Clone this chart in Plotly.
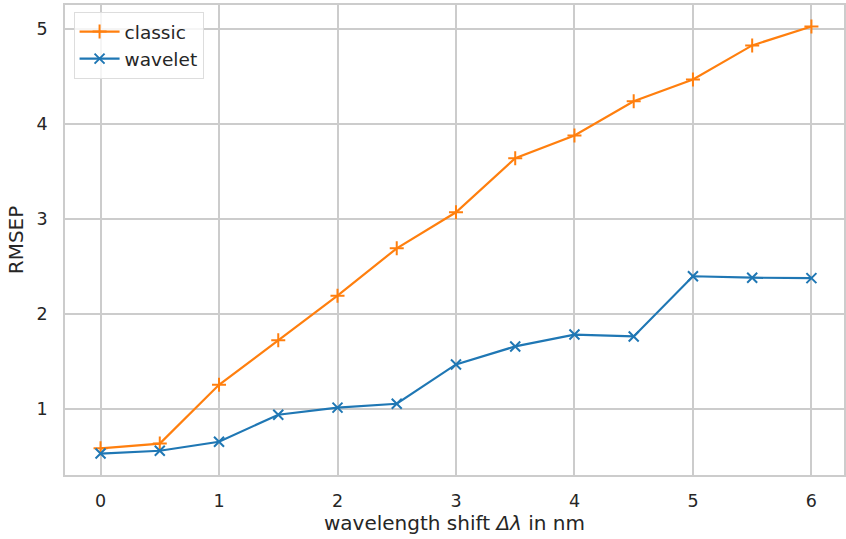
import plotly.graph_objects as go

shift = [0, 0.5, 1, 1.5, 2, 2.5, 3, 3.5, 4, 4.5, 5, 5.5, 6]
classic = [0.58, 0.63, 1.25, 1.72, 2.19, 2.69, 3.07, 3.64, 3.88, 4.24, 4.47, 4.83, 5.03]
wavelet = [0.525, 0.555, 0.65, 0.935, 1.01, 1.05, 1.465, 1.655, 1.78, 1.76, 2.395, 2.38, 2.375]

x_ticks = [0, 1, 2, 3, 4, 5, 6]
y_ticks = [1, 2, 3, 4, 5]

fig = go.Figure()
fig.add_trace(go.Scatter(
    x=shift, y=classic, name="classic", mode="lines+markers",
    line=dict(color="#ff7f0e", width=2.2),
    marker=dict(symbol="cross-thin", size=10, line=dict(color="#ff7f0e", width=2)),
))
fig.add_trace(go.Scatter(
    x=shift, y=wavelet, name="wavelet", mode="lines+markers",
    line=dict(color="#1f77b4", width=2.2),
    marker=dict(symbol="x-thin", size=10, line=dict(color="#1f77b4", width=2)),
))

font_family = "DejaVu Sans"
fig.update_layout(
    width=846, height=539,
    margin=dict(l=65, r=0, t=5, b=64),
    paper_bgcolor="white", plot_bgcolor="white",
    font=dict(family=font_family, size=17.5, color="#262626"),
    showlegend=True,
    legend=dict(
        x=0.011, y=0.985, xanchor="left", yanchor="top",
        bgcolor="rgba(255,255,255,0.8)", bordercolor="#dddddd", borderwidth=1,
        font=dict(size=18.5, color="#262626"),
        tracegroupgap=0, itemwidth=40, entrywidth=125,
    ),
    xaxis=dict(
        range=[-0.3, 6.275], tickvals=x_ticks, ticktext=[str(v) for v in x_ticks],
        showgrid=True, gridcolor="#cccccc", gridwidth=1.5,
        showline=True, linecolor="#cccccc", linewidth=1.5, mirror=True,
        zeroline=False, ticks="", ticklabelstandoff=9,
        title=dict(text="wavelength shift <i>Δλ</i> in nm", font=dict(size=20), standoff=6),
    ),
    yaxis=dict(
        range=[0.299, 5.256], tickvals=y_ticks, ticktext=[str(v) for v in y_ticks],
        showgrid=True, gridcolor="#cccccc", gridwidth=1.5,
        showline=True, linecolor="#cccccc", linewidth=1.5, mirror=True,
        zeroline=False, ticks="", ticklabelstandoff=12,
        title=dict(text="RMSEP", font=dict(size=20), standoff=8),
    ),
)

fig.write_html("out.html")
